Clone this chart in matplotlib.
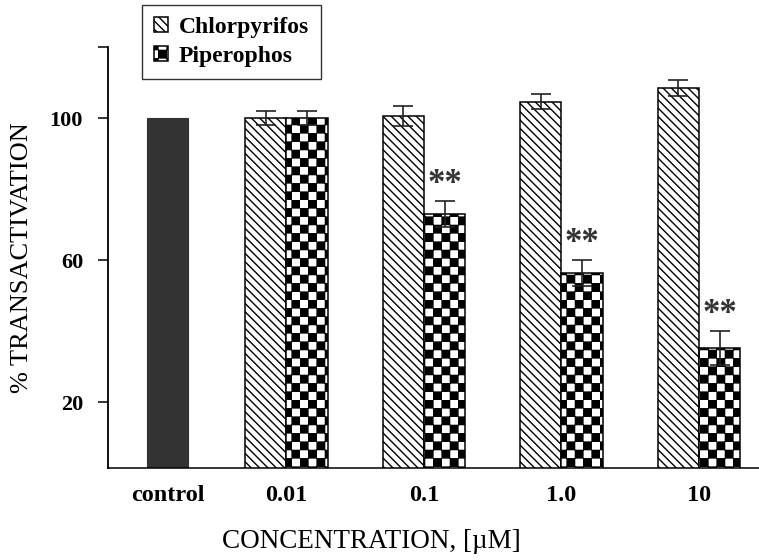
import warnings
import numpy as np
import matplotlib
matplotlib.use("Agg")
import matplotlib.pyplot as plt
from matplotlib import hatch as mhatch
from matplotlib.path import Path

warnings.filterwarnings("ignore")

# ---- data -------------------------------------------------------------
categories = ["control", "0.01", "0.1", "1.0", "10"]
control_value = 100.0
chlorpyrifos = [100.0, 100.5, 104.6, 108.4]
chlorpyrifos_err = [2.0, 2.8, 2.1, 2.3]
piperophos = [100.0, 73.0, 56.3, 35.2]
piperophos_err = [2.0, 3.6, 3.7, 4.8]
significant = ["", "**", "**", "**"]   # piperophos vs. control


# ---- checkerboard hatch ('c') ------------------------------------------
class CheckerHatch(mhatch.HatchPatternBase):
    """Filled checkerboard squares selected with the 'c' hatch character."""

    def __init__(self, hatch, density):
        n = int(hatch.count("c") * density)
        if n % 2:
            n += 1
        self.n = n
        self.num_vertices = (n * n // 2) * 5 if n else 0

    def set_vertices_and_codes(self, vertices, codes):
        s = 1.0 / self.n
        d = 0.004  # compensate for the hatch stroke width
        k = 0
        for i in range(self.n):
            for j in range(self.n):
                if (i + j) % 2:
                    continue
                x0, y0 = j * s + d, i * s + d
                x1, y1 = (j + 1) * s - d, (i + 1) * s - d
                vertices[k:k + 5] = [(x0, y0), (x1, y0), (x1, y1), (x0, y1), (x0, y0)]
                codes[k] = Path.MOVETO
                codes[k + 1:k + 4] = Path.LINETO
                codes[k + 4] = Path.CLOSEPOLY
                k += 5


mhatch._hatch_types.append(CheckerHatch)

# ---- style ------------------------------------------------------------
plt.rcParams["font.family"] = ["Liberation Serif", "DejaVu Serif"]
plt.rcParams["hatch.linewidth"] = 1.0

fig = plt.figure(figsize=(7.59, 5.60), dpi=100)
ax = fig.add_axes([108 / 759, 92 / 560, 651 / 759, 421 / 560])

group_x = np.arange(1, len(chlorpyrifos) + 1, dtype=float)
control_x = 0.135
width = 0.30

ax.bar(control_x, control_value, width, color="#333333", edgecolor="#333333",
       linewidth=0.8, zorder=2)

bars_c = ax.bar(group_x - width / 2, chlorpyrifos, width, facecolor="white",
                edgecolor="black", hatch="\\\\\\\\", linewidth=1.1,
                label="Chlorpyrifos", zorder=2)
bars_p = ax.bar(group_x + width / 2, piperophos, width, facecolor="white",
                edgecolor="black", hatch="cc", linewidth=1.1,
                label="Piperophos", zorder=2)

ax.errorbar(group_x - width / 2, chlorpyrifos, yerr=chlorpyrifos_err, fmt="none",
            ecolor="#222222", elinewidth=1.2, capsize=7, capthick=1.2, zorder=3)
ax.errorbar(group_x + width / 2, piperophos, yerr=piperophos_err, fmt="none",
            ecolor="#222222", elinewidth=1.2, capsize=7, capthick=1.2, zorder=3)

for xp, v, e, s in zip(group_x + width / 2, piperophos, piperophos_err, significant):
    if s:
        ax.annotate(s, (xp, v + e), xytext=(0, 12), textcoords="offset points",
                    ha="center", va="center", fontsize=25, fontweight="bold",
                    color="#333333")

# ---- axes -------------------------------------------------------------
ax.set_xlim(-0.297, 4.437)
ax.set_ylim(1.5, 120)
ax.set_yticks([20, 60, 100, 120])
ax.set_yticklabels(["20", "60", "100", ""], fontsize=16, fontweight="bold")
ax.set_xticks(np.concatenate([[control_x], group_x]))
ax.set_xticklabels(categories, fontsize=17.5, fontweight="bold")
ax.tick_params(axis="y", direction="out", length=7, width=1.1, pad=11)
ax.tick_params(axis="x", length=0, pad=12)

for side in ("top", "right"):
    ax.spines[side].set_visible(False)
ax.spines["left"].set_linewidth(1.3)
ax.spines["bottom"].set_linewidth(1.1)

ax.set_ylabel("% TRANSACTIVATION", fontsize=19)
ax.yaxis.set_label_coords(-0.115, 0.5)
ax.set_xlabel("CONCENTRATION, [µM]", fontsize=19.5)
ax.xaxis.set_label_coords(0.404, -0.145)

leg = ax.legend(loc="upper left", bbox_to_anchor=(142 / 759, 555 / 560),
                bbox_transform=fig.transFigure, borderaxespad=0,
                prop={"family": "Liberation Serif", "weight": "bold", "size": 17},
                handlelength=0.6, handleheight=0.6, handletextpad=0.45,
                labelspacing=0.35, borderpad=0.5, fancybox=False)
leg.get_frame().set_edgecolor("black")
leg.get_frame().set_linewidth(1.0)

fig.savefig("out.png", dpi=100)
